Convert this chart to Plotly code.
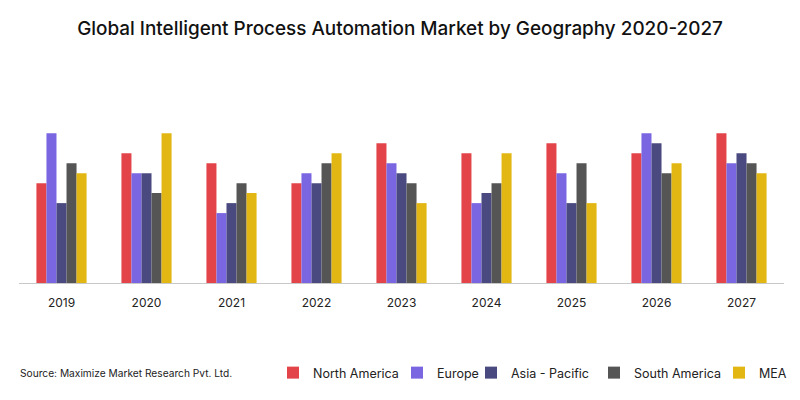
import plotly.graph_objects as go

years = ["2019", "2020", "2021", "2022", "2023", "2024", "2025", "2026", "2027"]
north_america = [10, 13, 12, 10, 14, 13, 14, 13, 15]
europe = [15, 11, 7, 11, 12, 8, 11, 15, 12]
asia_pacific = [8, 11, 8, 10, 11, 9, 8, 14, 13]
south_america = [12, 9, 10, 12, 10, 10, 12, 11, 12]
mea = [11, 15, 9, 13, 8, 13, 8, 12, 11]

series = [
    ("North America", north_america, "#E3444A"),
    ("Europe", europe, "#7B66E2"),
    ("Asia - Pacific", asia_pacific, "#4A4A80"),
    ("South America", south_america, "#555555"),
    ("MEA", mea, "#E2B713"),
]

W, H = 800, 400
# legend text start positions (pixels) for each series entry
legend_text_x = [310, 434, 508, 631, 756]
legend_ids = ["legend", "legend2", "legend3", "legend4", "legend5"]

fig = go.Figure()
for (name, vals, color), lid in zip(series, legend_ids):
    fig.add_trace(go.Bar(x=years, y=vals, name=name, marker_color=color,
                         marker_line_width=0, hoverinfo="x+y+name", legend=lid,
                         showlegend=True))

legend_layouts = {}
for lid, tx in zip(legend_ids, legend_text_x):
    legend_layouts[lid] = dict(
        orientation="h", xref="container", yref="container",
        x=(tx - 37) / W, xanchor="left", y=1 - 373 / H, yanchor="middle",
        font=dict(size=12.5, color="#222222"), itemwidth=30,
        bgcolor="rgba(0,0,0,0)", visible=True)

fig.update_layout(
    width=W, height=H, showlegend=True,
    barmode="group", bargap=0.41, bargroupgap=0,
    paper_bgcolor="white", plot_bgcolor="white",
    margin=dict(l=19, r=16, t=60, b=117),
    font=dict(family="Inter, Lato, sans-serif", color="#222222"),
    title=dict(text="Global Intelligent Process Automation Market by Geography 2020-2027",
               x=0.5, xanchor="center", y=1 - 28 / H, yanchor="middle",
               font=dict(size=18.9, color="#111111", family="Inter, sans-serif", weight=500)),
    xaxis=dict(showline=True, linecolor="#C8C8C8", linewidth=1, ticks="",
               tickfont=dict(size=12, color="#222222"), showgrid=False,
               ticklabelstandoff=9, range=[-0.5, 8.5]),
    yaxis=dict(visible=False, range=[0, 22.33], showgrid=False, zeroline=False),
    annotations=[dict(text="Source: Maximize Market Research Pvt. Ltd.",
                      xref="paper", yref="paper", showarrow=False,
                      x=0, xanchor="left", y=-(373 - 283) / (283 - 60), yanchor="middle",
                      xshift=-1, font=dict(size=10.2, color="#222222"))],
    **legend_layouts,
)
fig.write_html("out.html", config={"displayModeBar": False},
               post_script="document.body.style.margin='0';")
